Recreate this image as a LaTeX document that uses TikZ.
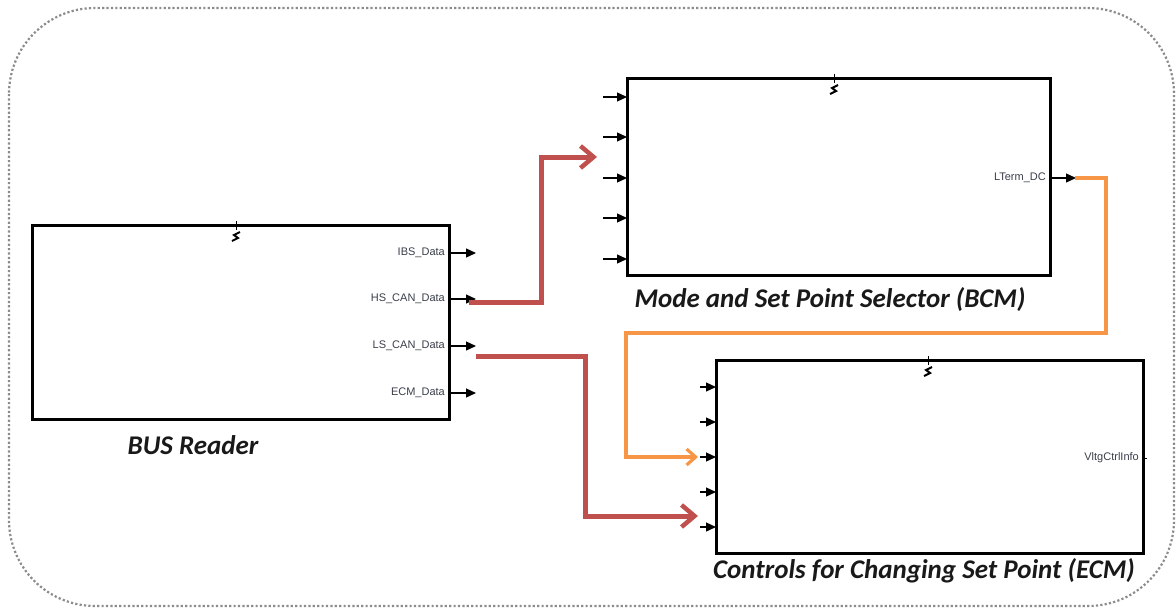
\documentclass[tikz,border=0pt]{standalone}
\usepackage{fontspec}
\usetikzlibrary{arrows.meta}
\newfontfamily\ttlfont{Carlito}
\newfontfamily\prtfont{Liberation Sans}
\definecolor{myred}{HTML}{C0504D}
\definecolor{myorange}{HTML}{F79646}
\definecolor{lblgray}{HTML}{3A3F4A}
\tikzset{
  blk/.style={draw=black, line width=3pt, fill=white, inner sep=0pt, outer sep=0pt, anchor=north west},
  portarr/.style={-{Triangle[length=10pt,width=9pt]}, line width=1.3pt, black},
  plabel/.style={font=\prtfont\fontsize{11}{12}\selectfont, anchor=east, inner sep=1pt, text=lblgray},
  ttl/.style={font=\ttlfont\bfseries\itshape\fontsize{27}{30}\selectfont, text=black!90, inner sep=0pt},
  redw/.style={draw=myred, line width=5pt, line join=miter, -{Straight Barb[length=13pt,width=22pt,line width=4.5pt]}},
  orgw/.style={draw=myorange, line width=3.2pt, line join=miter, -{Straight Barb[length=9pt,width=16pt,line width=3.2pt]}},
  outer/.style={draw=black!45, line width=2.2pt, dash pattern=on 2.2pt off 2.2pt, rounded corners=86pt},
}
\newcommand{\busmark}[2]{%
  \draw[line width=1pt] (#1,#2-6) -- (#1,#2+3);
  \draw[line width=2pt] (#1-4,#2+14) -- (#1+2,#2+11) -- (#1-2,#2+8) -- (#1+4,#2+5);
}
\begin{document}
\begin{tikzpicture}[x=1pt,y=-1pt]
\useasboundingbox (0,0) rectangle (1176,611);
\fill[white] (0,0) rectangle (1176,611);
% outer frame
\draw[outer] (9,8) rectangle (1174,606);

% ---------- BUS Reader ----------
\node[blk, minimum width=417pt, minimum height=194pt] (bus) at (32,225) {};
\busmark{236}{227}
\node[plabel] (l1) at (446,253) {IBS\_Data};
\node[plabel] (l2) at (446,299) {HS\_CAN\_Data};
\node[plabel] (l3) at (446,346) {LS\_CAN\_Data};
\node[plabel] (l4) at (446,393) {ECM\_Data};
\foreach \yy/\nm in {253/o1,299/o2,346/o3,393/o4}{
  \coordinate (\nm s) at (449,\yy);
  \coordinate (\nm) at (476,\yy);
  \draw[portarr] (\nm s) -- (\nm);
}
\node[ttl] (busT) at (193,445) {BUS Reader};

% ---------- Mode and Set Point Selector ----------
\node[blk, minimum width=423pt, minimum height=197pt] (mode) at (627,78) {};
\busmark{834}{80}
\foreach \yy/\nm in {97/m1,137/m2,178/m3,218/m4,259/m5}{
  \coordinate (\nm s) at (603,\yy);
  \coordinate (\nm) at (627,\yy);
  \draw[portarr] (\nm s) -- (\nm);
}
\node[plabel] (lt) at (1047,178) {LTerm\_DC};
\coordinate (lts) at (1050,178);
\coordinate (lte) at (1076,178);
\draw[portarr] (lts) -- (lte);
\node[ttl] (modeT) at (830,300) {Mode and Set Point Selector (BCM)};

% ---------- Controls for Changing Set Point ----------
\node[blk, minimum width=427pt, minimum height=193pt] (ctrl) at (716,360) {};
\busmark{928}{362}
\foreach \yy/\nm in {387/c1,422/c2,457/c3,492/c4,527/c5}{
  \coordinate (\nm s) at (700,\yy);
  \coordinate (\nm) at (716,\yy);
  \draw[portarr] (\nm s) -- (\nm);
}
\node[plabel] (vc) at (1140,458) {VltgCtrlInfo};
\coordinate (vcs) at (1143,458);
\coordinate (vce) at (1147,458);
\draw[line width=0.8pt] (vcs) -- (vce);
\node[ttl] (ctrlT) at (924,571) {Controls for Changing Set Point (ECM)};

% ---------- connectors ----------
\coordinate (r1a) at (469,302);
\coordinate (r1b) at (597,157);
\draw[redw] (r1a) -- (541,302) -- (541,157) -- (r1b);

\coordinate (r2a) at (476,356);
\coordinate (r2b) at (698,516);
\draw[redw] (r2a) -- (585,356) -- (585,516) -- (r2b);

\coordinate (oa) at (1075,178);
\coordinate (ob) at (698,457);
\draw[orgw] (oa) -- (1106,178) -- (1106,333) -- (626,333) -- (626,457) -- (ob);
\end{tikzpicture}
\end{document}
